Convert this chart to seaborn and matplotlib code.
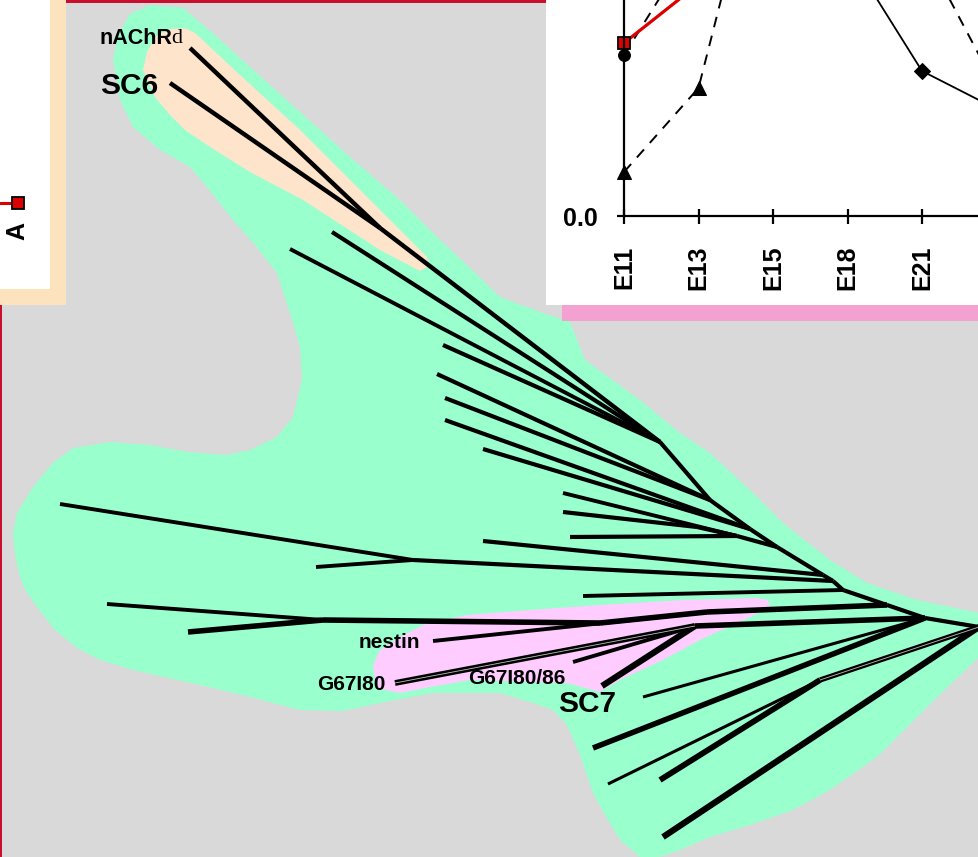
import numpy as np
import pandas as pd
import matplotlib
matplotlib.use("Agg")
import matplotlib.pyplot as plt
from matplotlib.patches import Polygon, Rectangle
import seaborn as sns

sns.set_theme(style="white")
plt.rcParams["font.family"] = ["Liberation Sans", "DejaVu Sans"]
plt.rcParams["text.color"] = "black"
plt.rcParams["xtick.color"] = "black"
plt.rcParams["ytick.color"] = "black"
plt.rcParams["axes.labelcolor"] = "black"

# ---------------------------------------------------------------- data
# developmental stages and expression curves of the time-course panel
stages = ["E11", "E13", "E15", "E18", "E21", "P0"]
labelled_stages = 5          # the last stage lies beyond the panel edge
expr_red_square = [0.865, 1.16, 1.50, 1.70, 1.60, 1.50]
expr_circle = [0.805, 1.40, 1.80, 1.90, 1.70, 1.45]
expr_triangle = [0.22, 0.64, 2.10, 1.90, 1.345, 0.64]
expr_diamond = [np.nan, np.nan, 1.60, 1.32, 0.725, 0.535]

# gene-expression tree: node layout (x, y in drawing units), parent, branch weight
node_name = ["root", "t1", "t2", "t3", "t4", "t5", "t6", "t7", "t7b", "t8", "t9",
             "sc6", "nAChRd", "SC6", "a1", "a2", "a3", "a4", "a5", "a6", "a7",
             "a8", "m1", "a9", "a10", "a11", "u", "u1", "u2", "a12", "p2", "p1",
             "p0", "b1", "b2", "nestin", "pk", "G67I80", "G67I80/86", "SC7",
             "c1", "c2", "w", "w1", "w2", "c3"]
node_x = [979, 925, 887, 843, 833, 823, 777, 750, 737, 710, 660,
          380, 190, 170, 332, 290, 443, 437, 445, 445, 483,
          563, 697, 563, 570, 483, 413, 60, 316, 583, 707, 600,
          323, 107, 188, 433, 695, 395, 573, 602,
          643, 593, 820, 608, 660, 663]
node_y = [627, 618, 605, 590, 581, 575, 547, 529, 536, 500, 442,
          228, 48, 83, 232, 249, 345, 374, 398, 420, 449,
          493, 527, 512, 537, 541, 560, 504, 567, 596, 612, 623,
          620, 604, 632, 641, 626, 683, 662, 686,
          697, 748, 680, 784, 780, 837]
node_parent = [None, "root", "t1", "t2", "t3", "t4", "t5", "t6", "t6", "t7", "t8",
               "t9", "sc6", "sc6", "t9", "t9", "t9", "t8", "t8", "t7", "t7",
               "t7b", "t7b", "m1", "t7b", "t5", "t4", "u", "u", "t3", "t2", "p2",
               "p1", "p0", "p0", "p2", "t1", "pk", "pk", "pk",
               "t1", "t1", "root", "w", "w", "root"]
branch_lw = [0, 3.0, 3.0, 3.0, 3.0, 3.0, 3.0, 3.0, 3.0, 3.0, 3.0,
             3.2, 3.2, 3.2, 3.0, 2.8, 3.0, 3.0, 3.0, 3.0, 3.0,
             2.8, 3.0, 3.0, 3.0, 3.0, 3.0, 2.8, 2.8, 2.8, 4.0, 4.0,
             4.0, 2.8, 4.0, 2.8, 4.0, 4.2, 2.8, 4.5,
             2.2, 4.0, 3.8, 2.2, 4.2, 4.5]
double_branches = ["G67I80", "w"]

# cluster outlines
green_x = [113, 118, 130, 150, 183, 215, 250, 300, 350, 400, 433, 470, 500, 540,
           570, 585, 640, 680, 710, 750, 783, 830, 867, 917, 979, 979, 950, 927, 877,
           830, 793, 750, 710, 680, 660, 640, 620, 605, 593, 580, 567, 553, 533,
           500, 433, 380, 343, 300, 250, 200, 133, 100, 77, 55, 37, 25, 20, 15,
           13, 17, 33, 53, 73, 110, 150, 187, 227, 250, 277, 293, 302, 300, 290,
           277, 255, 233, 207, 190, 160, 133, 120]
green_y = [60, 35, 14, 5, 8, 35, 67, 112, 157, 200, 233, 268, 297, 312,
           322, 360, 400, 433, 453, 490, 523, 560, 583, 600, 613, 657, 685, 707, 757,
           790, 810, 825, 837, 850, 857, 857, 840, 815, 793, 755, 725, 710, 703,
           693, 693, 703, 711, 710, 697, 685, 670, 660, 648, 630, 607, 590, 577,
           555, 533, 513, 487, 463, 448, 442, 445, 452, 455, 450, 437, 417, 380,
           347, 313, 273, 245, 220, 187, 167, 150, 127, 100]
peach_x = [143, 147, 156, 170, 185, 195, 240, 300, 360, 400, 427, 429, 420, 380,
           303, 250, 210, 185, 170, 155]
peach_y = [70, 52, 36, 29, 28, 33, 75, 130, 190, 230, 257, 266, 271, 250,
           200, 172, 147, 130, 115, 97]
pink_x = [373, 380, 400, 427, 467, 530, 600, 683, 757, 768, 770, 750, 700, 663,
          620, 600, 567, 470, 430, 400, 376]
pink_y = [665, 650, 637, 623, 615, 610, 605, 600, 598, 600, 607, 617, 640, 660,
          680, 692, 683, 680, 687, 693, 688]

# leaf labels
label_text = ["SC6", "nestin", "G67I80", "G67I80/86", "SC7"]
label_x = [100, 359, 317, 468, 558]
label_y = [86, 642, 684, 679, 704]
label_size = [21.5, 15, 15, 15, 21.5]

# ---------------------------------------------------------------- figure
W, H = 979, 857
fig = plt.figure(figsize=(W / 100, H / 100), dpi=100)
fig.patch.set_facecolor("#d9d9d9")
ax = fig.add_axes([0, 0, 1, 1])
ax.set_xlim(0, W)
ax.set_ylim(H, 0)
ax.axis("off")

GREEN = "#99ffcc"
PEACH = "#ffe4cc"
PINK = "#ffccff"

ax.add_patch(Polygon(np.column_stack([green_x, green_y]), closed=True,
                     facecolor=GREEN, edgecolor="none", zorder=1))
ax.add_patch(Polygon(np.column_stack([peach_x, peach_y]), closed=True,
                     facecolor=PEACH, edgecolor="none", zorder=2))
ax.add_patch(Polygon(np.column_stack([pink_x, pink_y]), closed=True,
                     facecolor=PINK, edgecolor="none", zorder=2))

# tree branches
pos = {n: (x, y) for n, x, y in zip(node_name, node_x, node_y)}
for n, par, lw in zip(node_name, node_parent, branch_lw):
    if par is None:
        continue
    x0, y0 = pos[par]
    x1, y1 = pos[n]
    ax.plot([x0, x1], [y0, y1], color="black", lw=lw,
            solid_capstyle="butt", zorder=5)
    if n in double_branches:
        ax.plot([x0, x1], [y0, y1], color="#bfbfbf", lw=0.6,
                solid_capstyle="butt", zorder=6)

# leaf labels
for t, x, y, s in zip(label_text, label_x, label_y, label_size):
    ax.text(x, y, t, fontsize=s, fontweight="bold", ha="left", va="center",
            color="black", zorder=7)
ax.text(100, 38, "nAChR", fontsize=15.5, fontweight="bold", ha="left",
        va="center", color="black", zorder=7)
ax.text(171.5, 38.5, "d", fontsize=16, family=["Liberation Serif", "DejaVu Serif"],
        ha="left", va="center", color="black", zorder=7)

# panel frames
RED = "#c8102e"
ax.add_patch(Rectangle((66, 0), 480, 2.5, facecolor=RED, edgecolor="none", zorder=8))
ax.add_patch(Rectangle((0, 305), 2.5, 552, facecolor=RED, edgecolor="none", zorder=8))

# left panel fragment
ax.add_patch(Rectangle((0, 0), 50, 289, facecolor="white", edgecolor="none", zorder=9))
ax.add_patch(Rectangle((50, 0), 16, 305, facecolor="#fce3bd", edgecolor="none", zorder=9))
ax.add_patch(Rectangle((0, 289), 66, 16, facecolor="#fce3bd", edgecolor="none", zorder=9))
ax.plot([0, 18], [203, 203], color="#dd0000", lw=2.2, zorder=10)
ax.plot([18], [203], marker="s", ms=8.5, mfc="#dd0000", mec="black", mew=1.3,
        zorder=11)
ax.text(17, 231, "A", rotation=90, fontsize=18, fontweight="bold",
        ha="center", va="center", color="black", zorder=11)

# right panel background
ax.add_patch(Rectangle((546, 0), 433, 305, facecolor="white", edgecolor="none", zorder=9))
ax.add_patch(Rectangle((562, 305), 417, 16, facecolor="#f3a1d0", edgecolor="none", zorder=9))

# time-course axes
ax_left_px, ax_right_px = 624, 1100
ax_bottom_px, ax_top_px = 216, -100
px_per_stage = 74.5
px_per_unit = 200.0
ax_in = fig.add_axes([ax_left_px / W, (H - ax_bottom_px) / H,
                      (ax_right_px - ax_left_px) / W,
                      (ax_bottom_px - ax_top_px) / H])
ax_in.set_zorder(12)
ax_in.patch.set_alpha(0)
ax_in.set_xlim(0, (ax_right_px - ax_left_px) / px_per_stage)
ax_in.set_ylim(0, (ax_bottom_px - ax_top_px) / px_per_unit)

stage_pos = np.arange(len(stages))
dash = (0, (5.5, 4.5))
series = [
    (expr_circle, dict(color="black", linewidth=1.4, linestyle=dash,
                       marker="o", markersize=8.5, markerfacecolor="black",
                       markeredgecolor="black")),
    (expr_triangle, dict(color="black", linewidth=1.4, linestyle=dash,
                         marker="^", markersize=10, markerfacecolor="black",
                         markeredgecolor="black")),
    (expr_diamond, dict(color="black", linewidth=1.3, linestyle="-",
                        marker="D", markersize=8, markerfacecolor="black",
                        markeredgecolor="black")),
    (expr_red_square, dict(color="#dd0000", linewidth=2.3, linestyle="-",
                           marker="s", markersize=8.5, markerfacecolor="#dd0000",
                           markeredgecolor="black", markeredgewidth=1.3)),
]
for vals, kw in series:
    v = np.asarray(vals, dtype=float)
    ok = ~np.isnan(v)
    df = pd.DataFrame({"stage": stage_pos[ok], "value": v[ok]})
    sns.lineplot(data=df, x="stage", y="value", ax=ax_in, estimator=None,
                 sort=False, clip_on=False, **kw)

ax_in.set_xlabel("")
ax_in.set_ylabel("")
sns.despine(ax=ax_in)
for side in ("left", "bottom"):
    ax_in.spines[side].set_color("black")
    ax_in.spines[side].set_linewidth(1.6)
ax_in.set_xticks(stage_pos[:labelled_stages])
ax_in.set_xticklabels(stages[:labelled_stages], rotation=90, fontweight="bold",
                      fontsize=18, color="black")
ax_in.set_yticks([0.0])
ax_in.set_yticklabels(["0.0"], fontweight="bold", fontsize=18, color="black")
ax_in.tick_params(axis="x", direction="inout", length=10.8, width=1.6,
                  pad=16, colors="black", bottom=True)
ax_in.tick_params(axis="y", direction="out", length=5, width=1.6,
                  pad=14, colors="black", left=True)
ax_in.grid(False)

fig.savefig("out.png", dpi=100, facecolor=fig.get_facecolor())
